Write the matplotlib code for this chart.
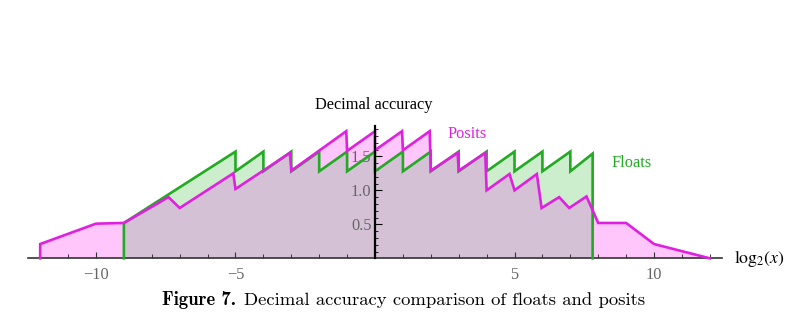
import matplotlib
matplotlib.use("Agg")
import matplotlib.pyplot as plt

# ---- data ----
posit_x = [-12, -12, -10, -9, -7.4, -7, -5.08, -5, -3.05, -3, -1.03, -1, 0, 0,
           0.97, 1, 1.96, 2, 2.96, 3, 3.95, 4, 4.82, 5, 5.8, 5.97, 6.6, 6.96,
           7.58, 8, 9, 10, 12]
posit_y = [0, 0.21, 0.51, 0.52, 0.90, 0.74, 1.25, 1.02, 1.55, 1.29, 1.87, 1.58, 1.87, 1.59,
           1.87, 1.59, 1.87, 1.29, 1.55, 1.29, 1.55, 1.00, 1.24, 1.00, 1.24, 0.74, 0.90, 0.74,
           0.91, 0.52, 0.52, 0.21, 0.0]

float_x = [-9, -9, -5, -5, -4, -4, -3, -3, -2, -2, -1, -1, 0, 0, 1, 1, 2, 2,
           3, 3, 4, 4, 5, 5, 6, 6, 7, 7, 7.8, 7.8]
float_y = [0, 0.52, 1.57, 1.28, 1.57, 1.28, 1.57, 1.28, 1.57, 1.28, 1.57, 1.28,
           1.57, 1.28, 1.57, 1.28, 1.57, 1.28, 1.57, 1.28, 1.57, 1.28, 1.57, 1.28,
           1.57, 1.28, 1.57, 1.28, 1.54, 0]

x_major_ticks = [-10, -5, 5, 10]
x_major_labels = ["\u221210", "\u22125", "5", "10"]
x_minor_ticks = [-12, -11, -9, -8, -7, -6, -4, -3, -2, -1, 1, 2, 3, 4, 6, 7, 8, 9, 11, 12]
y_major_ticks = [0.5, 1.0, 1.5]
y_major_labels = ["0.5", "1.0", "1.5"]
y_minor_ticks = [0.1, 0.2, 0.3, 0.4, 0.6, 0.7, 0.8, 0.9, 1.1, 1.2, 1.3, 1.4, 1.6, 1.7, 1.8, 1.9]

caption_bold = "Figure 7."
caption_rest = "Decimal accuracy comparison of floats and posits"

# ---- styles ----
MAG = "#e020e0"
GRN = "#22aa22"
PINK_FILL = "#ffc6fb"
GREEN_FILL = "#cdeecd"
OVER_FILL = "#d4c1d6"
SERIF = ["Liberation Serif", "DejaVu Serif"]
FS = 11.8

fig = plt.figure(figsize=(7.98, 3.32), dpi=100)
ax = fig.add_axes([0, 0, 1, 1])
ax.set_xlim(-13.44, 15.16)
ax.set_ylim(-1.084, 3.80)
ax.patch.set_visible(False)

# fills
ax.fill(posit_x, posit_y, color=PINK_FILL, lw=0, zorder=1.0)
fp = ax.fill(float_x, float_y, color=GREEN_FILL, lw=0, zorder=1.1)[0]
ov = ax.fill(posit_x, posit_y, color=OVER_FILL, lw=0, zorder=1.2)[0]
ov.set_clip_path(fp)

# lines
ax.plot(float_x, float_y, color=GRN, lw=1.9, zorder=3, solid_joinstyle="miter")
ax.plot(posit_x, posit_y, color=MAG, lw=1.9, zorder=3.1, solid_joinstyle="miter")

# axes
ax.set_axisbelow(False)
for s in ("top", "right"):
    ax.spines[s].set_visible(False)
ax.spines["left"].set_position(("data", 0))
ax.spines["bottom"].set_position(("data", 0))
ax.spines["left"].set_bounds(0, 1.95)
ax.spines["bottom"].set_bounds(-12.45, 12.45)
ax.spines["left"].set_linewidth(1.6)
ax.spines["left"].set_color("black")
ax.spines["bottom"].set_linewidth(1.2)
ax.spines["bottom"].set_color("#333333")
ax.spines["left"].set_zorder(3.5)

ax.set_xticks(x_major_ticks)
ax.set_xticklabels(x_major_labels, fontfamily=SERIF, fontsize=FS)
ax.set_xticks(x_minor_ticks, minor=True)
ax.set_yticks(y_major_ticks)
ax.set_yticklabels(y_major_labels, fontfamily=SERIF, fontsize=FS)
ax.set_yticks(y_minor_ticks, minor=True)

ax.tick_params(axis="x", which="major", direction="in", length=4, width=0.8,
               pad=6, labelcolor="#666666", color="#333333")
ax.tick_params(axis="x", which="minor", direction="in", length=3, width=0.7, color="#333333")
ax.tick_params(axis="y", which="major", direction="in", length=5, width=0.8,
               pad=2.5, labelcolor="#666666", color="black")
ax.tick_params(axis="y", which="minor", direction="in", length=2.5, width=0.6, color="black")

# texts
ax.text(-0.04, 2.203, "Decimal accuracy", ha="center", va="baseline",
        fontfamily=SERIF, fontsize=FS, color="black")
ax.text(2.61, 1.77, "Posits", ha="left", va="baseline",
        fontfamily=SERIF, fontsize=FS, color=MAG)
ax.text(8.46, 1.347, "Floats", ha="left", va="baseline",
        fontfamily=SERIF, fontsize=FS, color=GRN)
ax.text(12.87, -0.062, r"$\mathrm{log}_2(x)$", ha="left", va="baseline",
        fontsize=FS + 1, math_fontfamily="stix", color="black")

# caption: bold part + regular part, centred as a whole
CAP_FS = 13.45
cap_y = 1 - 305 / 332
renderer = fig.canvas.get_renderer()
tb = fig.text(0, cap_y, caption_bold, ha="left", va="baseline",
              fontfamily="cmb10", fontsize=CAP_FS, color="black")
tr = fig.text(0, cap_y, caption_rest, ha="left", va="baseline",
              fontfamily="cmr10", fontsize=CAP_FS, color="black")
wb = tb.get_window_extent(renderer).width
wr = tr.get_window_extent(renderer).width
gap = CAP_FS * 100 / 72 * 0.45
total = wb + gap + wr
left_px = 403.5 - total / 2
tb.set_x(left_px / 798)
tr.set_x((left_px + wb + gap) / 798)

fig.savefig("out.png", dpi=100)
